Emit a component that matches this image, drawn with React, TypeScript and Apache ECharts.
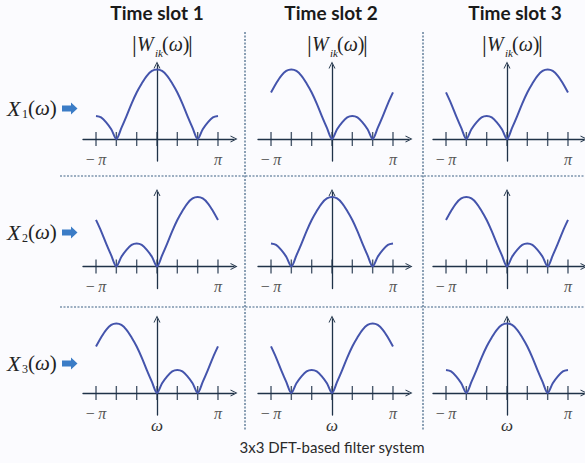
import React, { useEffect, useRef } from "react";
import * as echarts from "echarts";

// ω positions in units of π/12, from −π to π
const OMEGA = [-12, -11, -10, -9, -8, -7, -6, -5, -4, -3, -2, -1, 0, 1, 2, 3, 4, 5, 6, 7, 8, 9, 10, 11, 12];
// |W(ω)|: main lobe at 0, at −2π/3 and at +2π/3
const LOBE_CENTER = [0.33, 0.31, 0.24, 0.14, 0, 0.16, 0.33, 0.51, 0.67, 0.8, 0.91, 0.98, 1, 0.98, 0.91, 0.8, 0.67, 0.51, 0.33, 0.16, 0, 0.14, 0.24, 0.31, 0.33];
const LOBE_LEFT = [0.67, 0.8, 0.91, 0.98, 1, 0.98, 0.91, 0.8, 0.67, 0.51, 0.33, 0.16, 0, 0.14, 0.24, 0.31, 0.33, 0.31, 0.24, 0.14, 0, 0.16, 0.33, 0.51, 0.67];
const LOBE_RIGHT = [0.67, 0.51, 0.33, 0.16, 0, 0.14, 0.24, 0.31, 0.33, 0.31, 0.24, 0.14, 0, 0.16, 0.33, 0.51, 0.67, 0.8, 0.91, 0.98, 1, 0.98, 0.91, 0.8, 0.67];
// which response sits in each (row = input X_n, column = time slot)
const CELL_CURVES = [
  [LOBE_CENTER, LOBE_LEFT, LOBE_RIGHT],
  [LOBE_RIGHT, LOBE_CENTER, LOBE_LEFT],
  [LOBE_LEFT, LOBE_RIGHT, LOBE_CENTER],
];
const X_TICKS = [-12, -8, -4, 0, 4, 8, 12];
const X_LABEL_VALUES = [-12, 12];
const SLOT_TITLES = ["Time slot 1", "Time slot 2", "Time slot 3"];
const INPUT_SUBSCRIPTS = ["1", "2", "3"];
const CAPTION = "3x3 DFT-based filter system";

const COL_ZERO = [157, 332, 507];
const ROW_AXIS = [139, 266.5, 393];
const ROW_LABEL_Y = [108, 232, 363];
const TITLE_X = [157, 331, 515];

const AXIS = "#1f3248";
const CURVE = "#4454ac";
const DASH = "#3f6283";
const SERIF = "'Liberation Serif', 'DejaVu Serif', serif";
const SANS = "Lato, 'Open Sans', sans-serif";
const CHEVRON = "path://M0,10 L5,0 L10,10 L8.6,10 L5,2.8 L1.4,10 Z";

export default function App() {
  const ref = useRef<HTMLDivElement>(null);
  useEffect(() => {
    if (!ref.current) return;
    const chart = echarts.init(ref.current, null, { renderer: "svg" });
    const grids: any[] = [];
    const xAxes: any[] = [];
    const yAxes: any[] = [];
    const series: any[] = [];
    for (let r = 0; r < 3; r++) {
      for (let c = 0; c < 3; c++) {
        const idx = r * 3 + c;
        grids.push({ left: COL_ZERO[c] - 74, top: ROW_AXIS[r] - 74, width: 151, height: 96, outerBoundsMode: "none" });
        xAxes.push({
          gridIndex: idx,
          type: "value",
          min: -14.56,
          max: 15.15,
          axisLine: { show: true, onZero: true, symbol: ["none", CHEVRON], symbolSize: [8, 7], lineStyle: { color: AXIS, width: 1.3 } },
          axisTick: { show: false },
          splitLine: { show: false },
          axisLabel: {
            show: true,
            customValues: X_LABEL_VALUES,
            margin: -10,
            formatter: (v: number) => (v < 0 ? "{m|−} {p|π}" : "{p|π}"),
            rich: {
              m: { fontFamily: SERIF, fontSize: 16, color: "#555" },
              p: { fontFamily: SERIF, fontSize: 16, fontStyle: "italic", color: "#555" },
            },
          },
        });
        yAxes.push({
          gridIndex: idx,
          type: "value",
          min: -0.317,
          max: 1.065,
          axisLine: { show: true, onZero: true, symbol: ["none", CHEVRON], symbolSize: [8, 7], lineStyle: { color: AXIS, width: 1.3 } },
          axisTick: { show: false },
          axisLabel: { show: false },
          splitLine: { show: false },
        });
        const curve = CELL_CURVES[r][c];
        series.push({
          type: "line",
          xAxisIndex: idx,
          yAxisIndex: idx,
          data: OMEGA.map((w, i) => [w, curve[i]]),
          symbol: "none",
          showSymbol: false,
          smooth: 0.3,
          lineStyle: { color: CURVE, width: 2 },
          z: 3,
          silent: true,
        });
        series.push({
          type: "scatter",
          xAxisIndex: idx,
          yAxisIndex: idx,
          data: X_TICKS.map((t) => [t, 0]),
          symbol: "rect",
          symbolSize: [1.4, 14],
          itemStyle: { color: AXIS },
          z: 2,
          silent: true,
        });
      }
    }

    const graphic: any[] = [];
    const dashStyle = { stroke: DASH, lineWidth: 1.2, lineDash: [2, 1.5] };
    [245, 423].forEach((x) => graphic.push({ type: "line", shape: { x1: x, y1: 32, x2: x, y2: 430 }, style: dashStyle, silent: true }));
    [176, 307].forEach((y) => graphic.push({ type: "line", shape: { x1: 60, y1: y, x2: 585, y2: y }, style: dashStyle, silent: true }));

    SLOT_TITLES.forEach((t, c) => {
      graphic.push({ type: "text", x: TITLE_X[c], y: 12, style: { text: t, fontFamily: SANS, fontSize: 19, fontWeight: "bold", fill: "#1a1a1a", align: "center", verticalAlign: "middle" } });
      const x0 = COL_ZERO[c];
      const yc = 44;
      graphic.push({ type: "text", x: x0 - 25, y: yc, style: { text: "|", fontFamily: SERIF, fontSize: 24, fill: "#222", verticalAlign: "middle" } });
      graphic.push({ type: "text", x: x0 - 20, y: yc, style: { text: "W", fontFamily: SERIF, fontSize: 20, fontStyle: "italic", fill: "#222", verticalAlign: "middle" } });
      graphic.push({ type: "text", x: x0 - 2, y: yc + 9, style: { text: "ik", fontFamily: SERIF, fontSize: 11, fontStyle: "italic", fill: "#222", verticalAlign: "middle" } });
      graphic.push({
        type: "text", x: x0 + 5, y: yc,
        style: {
          text: "{p|(}{w|ω}{p|)}", verticalAlign: "middle",
          rich: { p: { fontFamily: SERIF, fontSize: 20, fill: "#222" }, w: { fontFamily: SERIF, fontSize: 20, fontStyle: "italic", fill: "#222" } },
        },
      });
      graphic.push({ type: "text", x: x0 + 31, y: yc, style: { text: "|", fontFamily: SERIF, fontSize: 24, fill: "#222", verticalAlign: "middle" } });
      graphic.push({ type: "text", x: x0, y: 425, style: { text: "ω", fontFamily: SERIF, fontSize: 17, fontStyle: "italic", fill: "#333", align: "center", verticalAlign: "middle" } });
    });

    INPUT_SUBSCRIPTS.forEach((s, r) => {
      const yc = ROW_LABEL_Y[r];
      graphic.push({ type: "text", x: 7, y: yc, style: { text: "X", fontFamily: SERIF, fontSize: 22, fontStyle: "italic", fill: "#222", verticalAlign: "middle" } });
      graphic.push({ type: "text", x: 22, y: yc + 6, style: { text: s, fontFamily: SERIF, fontSize: 12, fill: "#222", verticalAlign: "middle" } });
      graphic.push({
        type: "text", x: 28, y: yc,
        style: {
          text: "{p|(}{w|ω}{p|)}", verticalAlign: "middle",
          rich: { p: { fontFamily: SERIF, fontSize: 21, fill: "#222" }, w: { fontFamily: SERIF, fontSize: 21, fontStyle: "italic", fill: "#222" } },
        },
      });
      graphic.push({
        type: "polygon",
        shape: { points: [[62, yc - 2.5], [71, yc - 2.5], [71, yc - 5.5], [77.5, yc + 0.5], [71, yc + 6.5], [71, yc + 3.5], [62, yc + 3.5]] },
        style: { fill: "#3b7cc6" },
        silent: true,
      });
    });

    graphic.push({ type: "text", x: 332, y: 447, style: { text: CAPTION, fontFamily: SANS, fontSize: 15, fill: "#2a2a2a", align: "center", verticalAlign: "middle" } });

    chart.setOption({
      animation: false,
      backgroundColor: "#fbfbfe",
      grid: grids,
      xAxis: xAxes,
      yAxis: yAxes,
      series,
      graphic,
    });
    return () => chart.dispose();
  }, []);
  return <div ref={ref} style={{ position: "fixed", left: 0, top: 0, width: 585, height: 463 }} />;
}
